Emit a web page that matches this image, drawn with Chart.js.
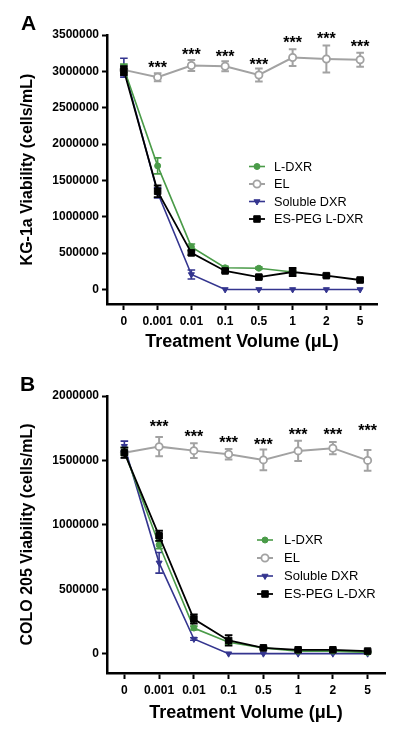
<!DOCTYPE html>
<html><head><meta charset="utf-8">
<script src="https://cdn.jsdelivr.net/npm/chart.js@4/dist/chart.umd.min.js"></script>
<style>
html,body{margin:0;padding:0;background:#fff;}
#wrap{position:relative;width:400px;height:732px;overflow:hidden;font-family:"Liberation Sans",Arial,sans-serif;}
.panel{position:absolute;left:0;}
.lab{position:absolute;font-weight:bold;font-size:21px;line-height:1;color:#000;}
</style></head><body>
<div id="wrap">
<div class="panel" style="top:0;width:400px;height:365px"><canvas id="cA" width="400" height="365"></canvas></div>
<div class="panel" style="top:365px;width:400px;height:367px"><canvas id="cB" width="400" height="367"></canvas></div>
<div class="lab" style="left:21px;top:12px">A</div>
<div class="lab" style="left:20px;top:373px">B</div>
</div>
<script>
// ---- data ----
const categories = ['0', '0.001', '0.01', '0.1', '0.5', '1', '2', '5'];
const seriesNames = ['L-DXR', 'EL', 'Soluble DXR', 'ES-PEG L-DXR'];
const yTicksA = [0, 500000, 1000000, 1500000, 2000000, 2500000, 3000000, 3500000];
const yTicksB = [0, 500000, 1000000, 1500000, 2000000];

// Panel A: KG-1a
const ldxrA     = [3040000, 1700000, 586000, 298000, 292000, 240000, null, null];
const ldxrErrA  = [60000, 110000, 40000, 20000, 15000, 20000, null, null];
const elA       = [3020000, 2920000, 3080000, 3070000, 2950000, 3190000, 3170000, 3160000];
const elErrA    = [60000, 55000, 75000, 70000, 90000, 115000, 185000, 95000];
const solA      = [3050000, 1330000, 206000, 0, 0, 0, 0, 0];
const solErrA   = [130000, 70000, 62000, 0, 0, 0, 0, 0];
const espegA    = [3010000, 1350000, 503000, 255000, 170000, 240000, 190000, 130000];
const espegErrA = [60000, 80000, 30000, 20000, 20000, 55000, 20000, 20000];
const starsA    = [null, 3110000, 3290000, 3265000, 3155000, 3457000, 3510000, 3390000];

// Panel B: COLO 205
const ldxrB     = [1570000, 845000, 199000, 88000, 45000, 20000, 20000, 10000];
const ldxrErrB  = [30000, 30000, 15000, 15000, 8000, 5000, 5000, 5000];
const elB       = [1560000, 1607000, 1576000, 1548000, 1504000, 1574000, 1595000, 1500000];
const elErrB    = [40000, 75000, 58000, 41000, 80000, 78000, 48000, 81000];
const solB      = [1610000, 705000, 114000, 0, 0, 0, 0, 0];
const solErrB   = [40000, 80000, 10000, 0, 0, 0, 0, 0];
const espegB    = [1560000, 915000, 269000, 103000, 45000, 30000, 30000, 20000];
const espegErrB = [40000, 39000, 35000, 41000, 8000, 5000, 5000, 5000];
const starsB    = [null, 1793000, 1713000, 1674000, 1653000, 1729000, 1736000, 1760000];

// ---- styles ----
const FONT = '"Liberation Sans", Arial, sans-serif';
const GREEN = '#4a9b48', GREY = '#a2a2a2', NAVY = '#34358f', BLACK = '#000000';

function datasets(ld, lde, el, ele, so, soe, es, ese) {
  return [
    {label: seriesNames[0], data: ld, errors: lde, borderColor: GREEN, backgroundColor: GREEN,
     pointStyle: 'circle', pointRadius: 3, pointBorderWidth: 1, borderWidth: 1.6, order: 1, errW: 1.6},
    {label: seriesNames[1], data: el, errors: ele, borderColor: GREY, backgroundColor: '#ffffff',
     pointStyle: 'circle', pointRadius: 3.6, pointBorderWidth: 1.8, borderWidth: 2, order: 3, errW: 2},
    {label: seriesNames[2], data: so, errors: soe, borderColor: NAVY, backgroundColor: NAVY,
     pointStyle: 'triangle', pointRotation: 180, pointRadius: 3.5, pointBorderWidth: 1, borderWidth: 1.6, order: 2, errW: 1.6},
    {label: seriesNames[3], data: es, errors: ese, borderColor: BLACK, backgroundColor: BLACK,
     pointStyle: 'rect', pointRadius: 4.6, pointBorderWidth: 1, borderWidth: 1.8, order: 0, errW: 1.8}
  ].map(d => Object.assign(d, {tension: 0, spanGaps: false, fill: false,
       pointBackgroundColor: d.backgroundColor, pointBorderColor: d.borderColor}));
}

const errorBars = {
  id: 'errorBars',
  beforeDatasetDraw(chart, args) {
    const ds = chart.data.datasets[args.index];
    if (!ds.errors) return;
    const ctx = chart.ctx, y = chart.scales.y;
    ctx.save();
    ctx.strokeStyle = ds.borderColor;
    ctx.lineWidth = ds.errW;
    args.meta.data.forEach((pt, i) => {
      const v = ds.data[i], e = ds.errors[i];
      if (v == null || !e) return;
      const yt = y.getPixelForValue(v + e), yb = y.getPixelForValue(v - e);
      const x = pt.x, c = 3.8;
      ctx.beginPath();
      ctx.moveTo(x, yt); ctx.lineTo(x, yb);
      ctx.moveTo(x - c, yt); ctx.lineTo(x + c, yt);
      ctx.moveTo(x - c, yb); ctx.lineTo(x + c, yb);
      ctx.stroke();
    });
    ctx.restore();
  }
};

const stars = {
  id: 'stars',
  afterDraw(chart, args, opts) {
    const ctx = chart.ctx, x = chart.scales.x, y = chart.scales.y;
    ctx.save();
    ctx.fillStyle = '#000';
    ctx.font = 'bold 16px ' + FONT;
    ctx.textAlign = 'center';
    ctx.textBaseline = 'alphabetic';
    opts.values.forEach((v, i) => {
      if (v == null) return;
      ctx.fillText('***', x.getPixelForValue(i), y.getPixelForValue(v) + 9.5);
    });
    ctx.restore();
  }
};

const panelLegend = {
  id: 'panelLegend',
  afterDraw(chart, args, opts) {
    const ctx = chart.ctx;
    ctx.save();
    ctx.font = opts.fontSize + 'px ' + FONT;
    ctx.textBaseline = 'middle';
    ctx.textAlign = 'left';
    chart.data.datasets.forEach((ds, i) => {
      const yy = opts.y + i * opts.step;
      ctx.strokeStyle = ds.borderColor;
      ctx.lineWidth = ds.borderWidth;
      ctx.beginPath();
      ctx.moveTo(opts.x, yy); ctx.lineTo(opts.x + opts.len, yy);
      ctx.stroke();
      ctx.fillStyle = ds.backgroundColor;
      ctx.lineWidth = ds.pointBorderWidth;
      Chart.helpers.drawPoint(ctx, {pointStyle: ds.pointStyle, rotation: ds.pointRotation || 0,
        radius: ds.pointRadius, borderWidth: ds.pointBorderWidth}, opts.x + opts.len / 2, yy);
      ctx.fillStyle = '#000';
      ctx.fillText(ds.label, opts.tx, yy + 0.5);
    });
    ctx.restore();
  }
};

function makeChart(id, cfg) {
  const axisBorder = {display: true, width: 2.5, color: '#000'};
  return new Chart(document.getElementById(id), {
    type: 'line',
    data: {labels: categories, datasets: cfg.datasets},
    options: {
      responsive: false, animation: false, devicePixelRatio: 1,
      layout: {padding: cfg.padding},
      plugins: {
        legend: {display: false}, tooltip: {enabled: false},
        stars: {values: cfg.stars},
        panelLegend: cfg.legend
      },
      scales: {
        x: {
          type: 'category', offset: true,
          grid: {display: true, drawOnChartArea: false, drawTicks: true, tickLength: 6, tickWidth: 2, tickColor: '#000', color: '#000'},
          border: axisBorder,
          ticks: {color: '#000', font: {family: FONT, size: 12, weight: 'bold'}, padding: 4, maxRotation: 0, autoSkip: false},
          title: {display: true, text: 'Treatment Volume (\u03bcL)', color: '#000',
                  font: {family: FONT, size: 18, weight: 'bold'}, padding: {top: 0, bottom: 1}},
          afterFit: s => { s.height = cfg.xHeight; }
        },
        y: {
          min: cfg.min, max: cfg.max,
          grid: {display: true, drawOnChartArea: false, drawTicks: true, tickLength: 5, tickWidth: 2, tickColor: '#000', color: '#000'},
          border: axisBorder,
          ticks: {stepSize: 500000, color: '#000', font: {family: FONT, size: 12, weight: 'bold'}, padding: 3,
                  callback: v => String(v)},
          title: {display: true, text: cfg.yTitle, color: '#000',
                  font: {family: FONT, size: 16, weight: 'bold'}, padding: {top: 8, bottom: 0}},
          afterBuildTicks: s => { s.ticks = cfg.yTicks.map(v => ({value: v})); },
          afterFit: s => { s.width = 97; }
        }
      }
    },
    plugins: [errorBars, stars, panelLegend]
  });
}

makeChart('cA', {
  datasets: datasets(ldxrA, ldxrErrA, elA, elErrA, solA, solErrA, espegA, espegErrA),
  padding: {top: 35, left: 10, right: 23, bottom: 11},
  xHeight: 50, min: -200000, max: 3500000, yTicks: yTicksA,
  yTitle: 'KG-1a Viability (cells/mL)', stars: starsA,
  legend: {x: 249, len: 16, tx: 274, y: 166.5, step: 17.5, fontSize: 12.7}
});
makeChart('cB', {
  datasets: datasets(ldxrB, ldxrErrB, elB, elErrB, solB, solErrB, espegB, espegErrB),
  padding: {top: 31, left: 10, right: 15, bottom: 7},
  xHeight: 52, min: -150000, max: 2000000, yTicks: yTicksB,
  yTitle: 'COLO 205 Viability (cells/mL)', stars: starsB,
  legend: {x: 257, len: 16, tx: 284, y: 175, step: 18, fontSize: 13}
});
</script>
</body></html>
